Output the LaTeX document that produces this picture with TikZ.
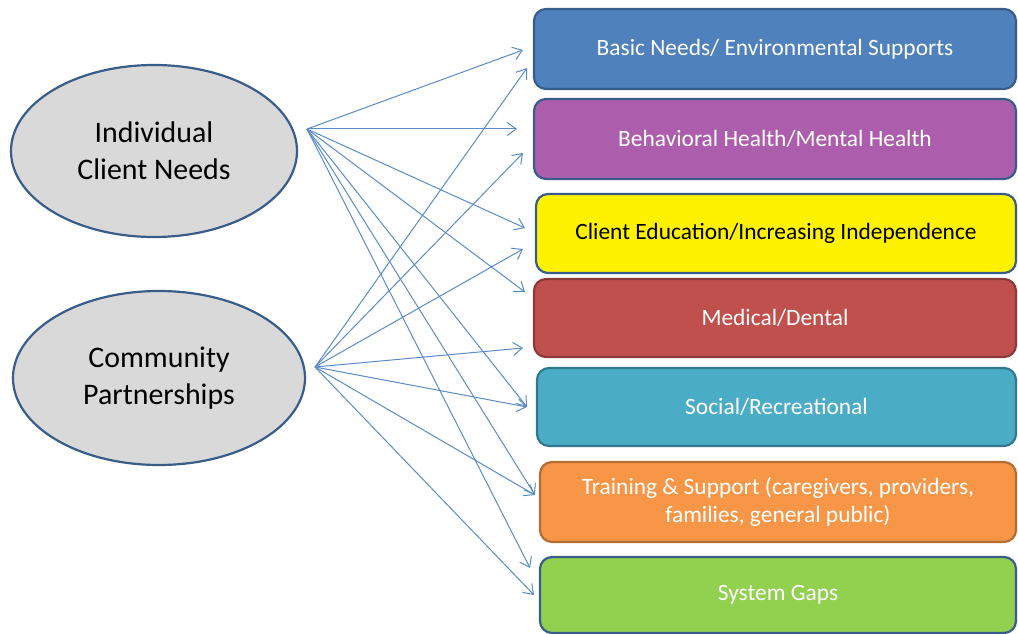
\documentclass[tikz,border=0pt]{standalone}
\usepackage{fontspec}
\setmainfont{Carlito}
\usetikzlibrary{arrows.meta,shapes.geometric}

\definecolor{linkblue}{HTML}{5B8BC8}
\definecolor{ellipsegray}{HTML}{D9D9D9}
\definecolor{edgeblue}{HTML}{385D8A}

\begin{document}
\begin{tikzpicture}[x=1bp,y=-1bp,
    need/.style={ellipse,draw=edgeblue,line width=2.2bp,fill=ellipsegray,
      inner sep=0pt,align=center,font=\fontsize{30}{37}\selectfont},
    area/.style={rounded corners=12bp,line width=2.2bp,text=white,
      inner sep=0pt,align=center,font=\fontsize{23.5}{29}\selectfont},
    link/.style={draw=linkblue,line width=1bp,
      -{Straight Barb[length=9bp,width=13bp]}}]

  \useasboundingbox (0,0) rectangle (1018,634);

  \node [need,minimum width=286bp,minimum height=172bp] (icn)
    at (154,151) {Individual\\Client Needs};
  \node [need,minimum width=292bp,minimum height=174bp] (cp)
    at (159,378) {Community\\Partnerships};

  \node [area,fill={rgb,255:red,79;green,129;blue,189},draw=edgeblue,
    minimum width=482bp,minimum height=80bp] (basic)
    at (775,49) {Basic Needs/ Environmental Supports};
  \node [area,fill={rgb,255:red,172;green,94;blue,172},draw=edgeblue,
    minimum width=482bp,minimum height=80bp] (behav)
    at (775,139) {Behavioral Health/Mental Health};
  \node [area,fill=yellow,draw=edgeblue,text=black,
    minimum width=480bp,minimum height=79bp] (educ)
    at (776,233.5) {Client Education/Increasing Independence};
  \node [area,fill={rgb,255:red,192;green,80;blue,77},
    draw={rgb,255:red,140;green,58;blue,56},
    minimum width=482bp,minimum height=78bp] (medic)
    at (775,318) {Medical/Dental};
  \node [area,fill={rgb,255:red,75;green,172;blue,198},
    draw={rgb,255:red,49;green,120;blue,143},
    minimum width=479bp,minimum height=78bp] (social)
    at (776.5,407) {Social/Recreational};
  \node [area,fill={rgb,255:red,247;green,150;blue,70},
    draw={rgb,255:red,182;green,109;blue,49},
    minimum width=476bp,minimum height=80bp] (train)
    at (778,502) {Training \& Support (caregivers, providers,\\
    families, general public)};
  \node [area,fill={rgb,255:red,146;green,208;blue,80},draw=edgeblue,
    minimum width=476bp,minimum height=76bp] (gaps)
    at (778,595) {System Gaps};

  % where the arrows leave and land
  \coordinate (icn-out) at (307,129);
  \coordinate (cp-out) at (315,367);

  \coordinate (basic-a) at (523,50);
  \coordinate (basic-b) at (527,68);
  \coordinate (behav-a) at (517,129);
  \coordinate (behav-b) at (523,153);
  \coordinate (educ-a) at (525,228);
  \coordinate (educ-b) at (523,249);
  \coordinate (medic-a) at (525,292);
  \coordinate (medic-b) at (523,348);
  \coordinate (social-a) at (527,407);
  \coordinate (train-a) at (535,495);
  \coordinate (gaps-a) at (530,568);
  \coordinate (gaps-b) at (534,595);

  \foreach \t in {basic-a,behav-a,educ-a,medic-a,social-a,train-a,gaps-a}
    \draw [link] (icn-out) -- (\t);

  \foreach \t in {basic-b,behav-b,educ-b,medic-b,social-a,train-a,gaps-b}
    \draw [link] (cp-out) -- (\t);
\end{tikzpicture}
\end{document}
